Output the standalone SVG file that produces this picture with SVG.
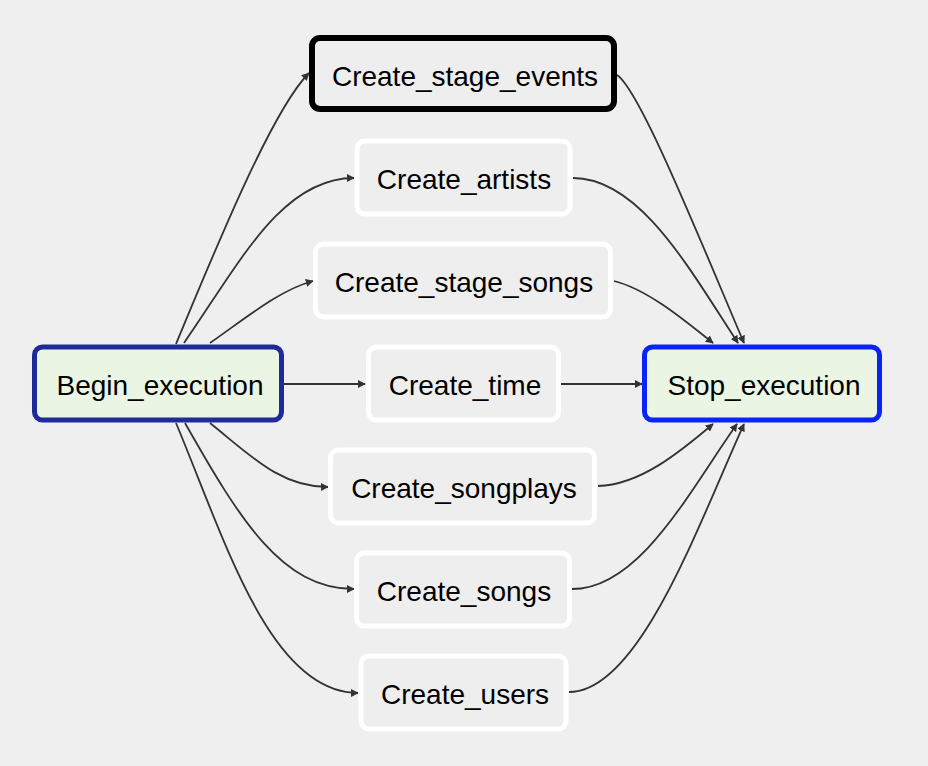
<svg xmlns="http://www.w3.org/2000/svg" width="928" height="766" viewBox="0 0 928 766">
<style>
.bg{fill:#efefef}
.task rect{fill:#eeeeee;stroke:#ffffff;stroke-width:5}
.hl rect{fill:#eeeeee;stroke:#000000;stroke-width:6}
.se rect{fill:#ebf5e4;stroke-width:5}
text{font-family:"Liberation Sans",Arial,Helvetica,sans-serif;font-size:28px;fill:#000;text-anchor:middle}
#edges path{fill:none;stroke:#333333;stroke-width:1.8}
</style>
<defs>
<marker id="arr" viewBox="0 0 10 10" refX="9" refY="5" markerWidth="8" markerHeight="8" markerUnits="userSpaceOnUse" orient="auto">
<path d="M0,0 L10,5 L0,10 z" fill="#333333"/>
</marker>
</defs>
<rect class="bg" x="0" y="0" width="928" height="766"/>
<g id="edges">
<path d="M176,344 C215,250 272,110 309,73" marker-end="url(#arr)"/>
<path d="M184,343 C240,262 282,178 354,178" marker-end="url(#arr)"/>
<path d="M210,343 C250,315 280,290 313,281" marker-end="url(#arr)"/>
<path d="M284,384 L365,384" marker-end="url(#arr)"/>
<path d="M210,423 C250,455 280,487 328,487" marker-end="url(#arr)"/>
<path d="M185,423 C240,520 282,589 354,589" marker-end="url(#arr)"/>
<path d="M176,423 C225,540 270,693 358,693" marker-end="url(#arr)"/>
<path d="M617,75 C640,90 700,240 744,343" marker-end="url(#arr)"/>
<path d="M573,178 C640,178 690,270 738,343" marker-end="url(#arr)"/>
<path d="M614,281 C650,290 690,325 713,343" marker-end="url(#arr)"/>
<path d="M561,384 L642,384" marker-end="url(#arr)"/>
<path d="M598,486 C640,485 680,452 713,424" marker-end="url(#arr)"/>
<path d="M572,589 C640,589 690,490 737,424" marker-end="url(#arr)"/>
<path d="M569,692 C640,692 700,520 744,424" marker-end="url(#arr)"/>
</g>
<g id="Create_stage_events" class="hl">
<rect x="312" y="38" width="302" height="71" rx="8"/>
<text x="465" y="86">Create_stage_events</text>
</g>
<g id="Create_artists" class="task">
<rect x="357" y="141" width="213" height="73" rx="8"/>
<text x="464" y="189">Create_artists</text>
</g>
<g id="Create_stage_songs" class="task">
<rect x="315.5" y="244" width="295" height="73" rx="8"/>
<text x="464" y="292">Create_stage_songs</text>
</g>
<g id="Begin_execution" class="se">
<rect x="34.5" y="347" width="247" height="73" rx="8" stroke="#1e2a99"/>
<text x="160" y="395">Begin_execution</text>
</g>
<g id="Create_time" class="task">
<rect x="368.5" y="347" width="190" height="73" rx="8"/>
<text x="465" y="395">Create_time</text>
</g>
<g id="Stop_execution" class="se">
<rect x="644.5" y="347" width="235" height="73" rx="8" stroke="#0a24f5"/>
<text x="764" y="395">Stop_execution</text>
</g>
<g id="Create_songplays" class="task">
<rect x="330.5" y="450" width="264" height="73" rx="8"/>
<text x="464" y="498">Create_songplays</text>
</g>
<g id="Create_songs" class="task">
<rect x="356.5" y="553" width="213" height="73" rx="8"/>
<text x="464" y="601">Create_songs</text>
</g>
<g id="Create_users" class="task">
<rect x="361" y="656" width="205" height="73" rx="8"/>
<text x="465" y="704">Create_users</text>
</g>
</svg>
